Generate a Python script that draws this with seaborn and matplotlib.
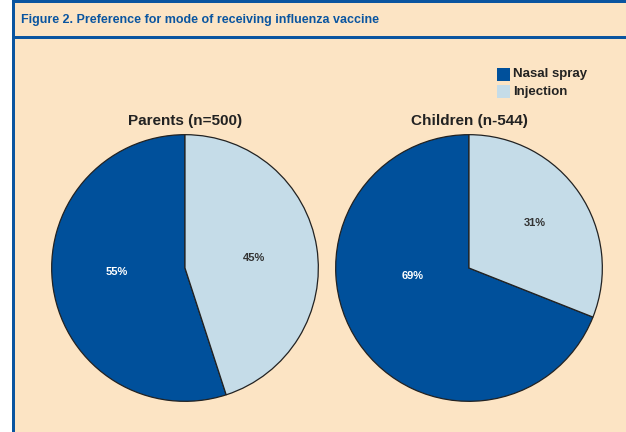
import matplotlib
matplotlib.use("Agg")
import matplotlib.pyplot as plt
from matplotlib.patches import Rectangle
import seaborn as sns

sns.set_theme(style="white")
plt.rcParams['font.family'] = ['Liberation Sans', 'DejaVu Sans']

# ---- data ----
categories = ["Nasal spray", "Injection"]
parents_values = [55, 45]
children_values = [69, 31]
panel_titles = ["Parents (n=500)", "Children (n-544)"]
figure_title = "Figure 2. Preference for mode of receiving influenza vaccine"

# ---- styles ----
BG = "#FCE4C4"
DARK = "#00509B"
LIGHT = "#C5DCE8"
BORDER = "#0A55A0"
colors = [DARK, LIGHT]
label_colors = ["white", "#333333"]
# label positions (in pie radius units) for each panel
label_pos = [[(-0.51, -0.03), (0.52, 0.075)],
             [(-0.425, -0.06), (0.49, 0.34)]]

W, H = 626, 432
fig = plt.figure(figsize=(W / 100, H / 100), dpi=100, facecolor="white")

def px(x, y, w, h):
    return [x / W, 1 - (y + h) / H, w / W, h / H]

# background panel
fig.patches.append(Rectangle((14 / W, 0), 1, 1, transform=fig.transFigure,
                             facecolor=BG, edgecolor="none", zorder=-2))
# borders
fig.patches.append(Rectangle((12 / W, 0), 2.5 / W, 1, transform=fig.transFigure,
                             facecolor=BORDER, edgecolor="none", zorder=-1))
fig.patches.append(Rectangle((12 / W, 1 - 2.5 / H), 1, 2.5 / H, transform=fig.transFigure,
                             facecolor=BORDER, edgecolor="none", zorder=-1))
fig.patches.append(Rectangle((12 / W, 1 - 38.5 / H), 1, 2.5 / H, transform=fig.transFigure,
                             facecolor=BORDER, edgecolor="none", zorder=-1))

fig.text(21 / W, 1 - 19.5 / H, figure_title, color=BORDER, fontsize=9,
         fontweight="bold", va="center", ha="left")

centers = [185, 469]
R = 134
cy = 268
for i, (vals, ttl) in enumerate(zip([parents_values, children_values], panel_titles)):
    ax = fig.add_axes(px(centers[i] - R, cy - R, 2 * R, 2 * R))
    ax.set_zorder(3)
    ax.set_facecolor("none")
    wedges, texts, autotexts = ax.pie(
        vals, colors=colors, startangle=90, counterclock=True,
        autopct="%d%%", radius=1,
        wedgeprops=dict(edgecolor="#222222", linewidth=0.9),
        textprops=dict(fontsize=8, fontweight="bold"))
    for j, t in enumerate(autotexts):
        t.set_position(label_pos[i][j])
        t.set_color(label_colors[j])
        t.set_ha("center")
        t.set_va("center")
    ax.set_xlim(-1.005, 1.005)
    ax.set_ylim(-1.005, 1.005)
    ax.set_aspect("equal")
    ax.axis("off")
    fig.text(centers[i] / W, 1 - 121 / H, ttl, fontsize=11, fontweight="bold",
             color="#222222", ha="center", va="center")

# legend
for k, (cat, c) in enumerate(zip(categories, colors)):
    y0 = 68 + k * 17
    fig.patches.append(Rectangle((497 / W, 1 - (y0 + 12.5) / H), 12.5 / W, 12.5 / H,
                                 transform=fig.transFigure, facecolor=c,
                                 edgecolor="none", zorder=2))
    fig.text(513 / W, 1 - (y0 + 6.5) / H, cat, fontsize=9.5, fontweight="bold",
             color="#222222", ha="left", va="center")

fig.savefig("out.png", dpi=100, facecolor="white")
